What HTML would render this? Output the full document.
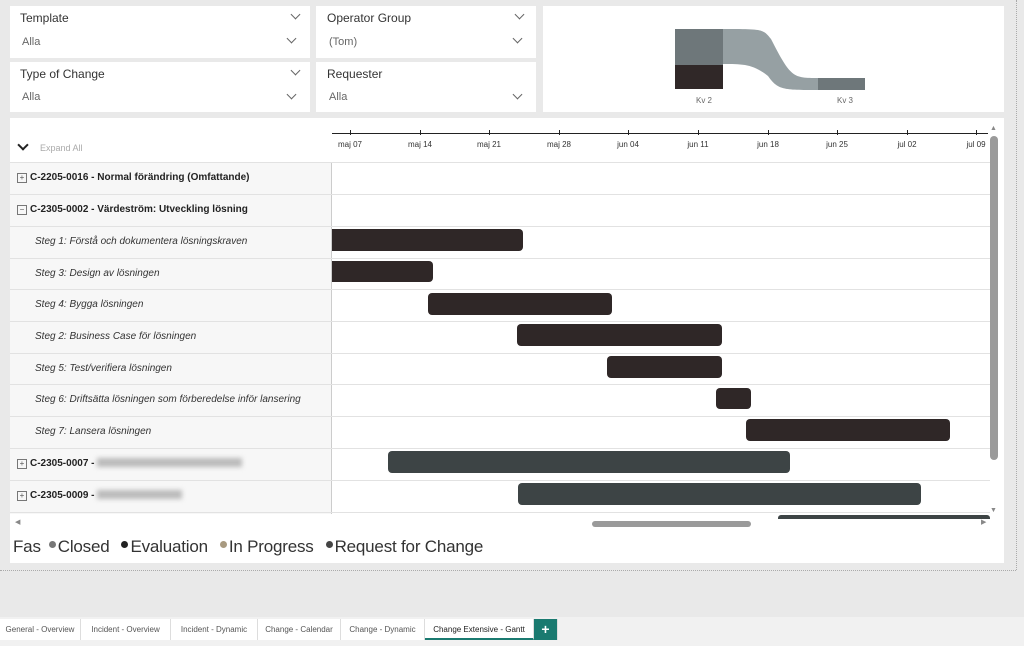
<!DOCTYPE html><html><head><style>
body{margin:0;width:1024px;height:646px;background:#e9e9e9;font-family:"Liberation Sans",sans-serif;position:relative;overflow:hidden}
.p{position:absolute;background:#fff}
.a{position:absolute}
.lbl{font-size:12px;color:#333}
.val{font-size:11px;color:#666}
.chev{position:absolute;width:6px;height:6px;border-right:1px solid #666;border-bottom:1px solid #666;transform:rotate(45deg)}
.row{position:absolute;left:10px;width:980px;height:1px;background:#e2e2e2}
.t{position:absolute;font-size:10px;font-style:italic;color:#333;left:35px}
.g{position:absolute;font-size:10px;font-weight:bold;color:#222;left:30px}
.b{position:absolute;background:#2f2727;border-radius:4px;height:22px}
.pl{position:absolute;left:17px;width:8px;height:8px;border:1px solid #777;font-size:8px;line-height:8px;text-align:center;color:#555}
.tk{position:absolute;top:140px;font-size:8px;color:#333;transform:translateX(-50%)}
.tm{position:absolute;top:130px;width:1px;height:5px;background:#222}
.tab{position:absolute;top:619px;height:21px;font-size:8px;color:#555;line-height:21px;text-align:center;background:#fff;border-right:1px solid #ddd}
.dot{display:inline-block;width:7px;height:7px;border-radius:50%;margin:0 2px 0 8px;vertical-align:4px}
.blur{display:inline-block;height:9px;background:#bbb;filter:blur(2.5px);vertical-align:-1px;margin-left:3px}
</style></head><body>
<div class="p" style="left:10px;top:6px;width:300px;height:52px"></div>
<div class="p" style="left:316px;top:6px;width:220px;height:52px"></div>
<div class="p" style="left:10px;top:62px;width:300px;height:50px"></div>
<div class="p" style="left:316px;top:62px;width:220px;height:50px"></div>
<div class="a lbl" style="left:20px;top:11px">Template</div>
<div class="a val" style="left:22px;top:36px">Alla</div>
<div class="a lbl" style="left:327px;top:11px">Operator Group</div>
<div class="a val" style="left:329px;top:36px">(Tom)</div>
<div class="a lbl" style="left:20px;top:67px">Type of Change</div>
<div class="a val" style="left:22px;top:91px">Alla</div>
<div class="a lbl" style="left:327px;top:67px">Requester</div>
<div class="a val" style="left:329px;top:91px">Alla</div>
<div class="chev" style="left:292px;top:11px"></div><div class="chev" style="left:288px;top:35px"></div>
<div class="chev" style="left:516px;top:11px"></div><div class="chev" style="left:514px;top:35px"></div>
<div class="chev" style="left:292px;top:67px"></div><div class="chev" style="left:288px;top:91px"></div>
<div class="chev" style="left:514px;top:91px"></div>
<div class="p" style="left:543px;top:6px;width:461px;height:106px">
<svg width="461" height="106" style="position:absolute;left:0;top:0">
<path d="M180 23 C220 23 220 23 228 33 C248 72 250 72 275 72 L275 84 C240 84 235 84 225 70 C210 58 200 58 180 58 Z" fill="#96a0a3"/>
<rect x="132" y="23" width="48" height="36" fill="#6e777a"/>
<rect x="132" y="59" width="48" height="24" fill="#302828"/>
<rect x="275" y="72" width="47" height="12" fill="#6e777a"/>
<text x="161" y="97" font-size="8" fill="#666" text-anchor="middle" font-family="Liberation Sans">Kv 2</text>
<text x="302" y="97" font-size="8" fill="#666" text-anchor="middle" font-family="Liberation Sans">Kv 3</text>
</svg></div>
<div class="p" style="left:10px;top:118px;width:994px;height:445px"></div>
<div class="a" style="left:19px;top:141px;width:6px;height:6px;border-right:2px solid #222;border-bottom:2px solid #222;transform:rotate(45deg)"></div>
<div class="a" style="left:40px;top:143px;font-size:9px;color:#aaa">Expand All</div>
<div class="a" style="left:332px;top:133px;width:656px;height:1px;background:#222"></div>
<div class="tm" style="left:350px"></div><div class="tk" style="left:350px">maj 07</div>
<div class="tm" style="left:420px"></div><div class="tk" style="left:420px">maj 14</div>
<div class="tm" style="left:489px"></div><div class="tk" style="left:489px">maj 21</div>
<div class="tm" style="left:559px"></div><div class="tk" style="left:559px">maj 28</div>
<div class="tm" style="left:628px"></div><div class="tk" style="left:628px">jun 04</div>
<div class="tm" style="left:698px"></div><div class="tk" style="left:698px">jun 11</div>
<div class="tm" style="left:768px"></div><div class="tk" style="left:768px">jun 18</div>
<div class="tm" style="left:837px"></div><div class="tk" style="left:837px">jun 25</div>
<div class="tm" style="left:907px"></div><div class="tk" style="left:907px">jul 02</div>
<div class="tm" style="left:976px"></div><div class="tk" style="left:976px">jul 09</div>
<div class="a" style="left:10px;top:162px;width:322px;height:352px;background:#f7f7f7"></div>
<div class="a" style="left:331px;top:162px;width:1px;height:352px;background:#ccc"></div>
<div class="row" style="top:162px"></div><div class="row" style="top:194px"></div><div class="row" style="top:226px"></div><div class="row" style="top:258px"></div><div class="row" style="top:289px"></div><div class="row" style="top:321px"></div><div class="row" style="top:353px"></div><div class="row" style="top:384px"></div><div class="row" style="top:416px"></div><div class="row" style="top:448px"></div><div class="row" style="top:480px"></div><div class="row" style="top:512px"></div>
<div class="pl" style="top:173px">+</div><div class="g" style="top:172px">C-2205-0016 - Normal förändring (Omfattande)</div>
<div class="pl" style="top:205px">−</div><div class="g" style="top:204px">C-2305-0002 - Värdeström: Utveckling lösning</div>
<div class="t" style="top:236px">Steg 1: Förstå och dokumentera lösningskraven</div>
<div class="t" style="top:268px">Steg 3: Design av lösningen</div>
<div class="t" style="top:299px">Steg 4: Bygga lösningen</div>
<div class="t" style="top:331px">Steg 2: Business Case för lösningen</div>
<div class="t" style="top:363px">Steg 5: Test/verifiera lösningen</div>
<div class="t" style="top:394px">Steg 6: Driftsätta lösningen som förberedelse inför lansering</div>
<div class="t" style="top:426px">Steg 7: Lansera lösningen</div>
<div class="pl" style="top:459px">+</div><div class="g" style="top:458px">C-2305-0007 -<span class="blur" style="width:145px"></span></div>
<div class="pl" style="top:491px">+</div><div class="g" style="top:490px">C-2305-0009 -<span class="blur" style="width:85px"></span></div>
<div class="b" style="left:332px;top:229px;width:191px;border-radius:0 4px 4px 0"></div>
<div class="b" style="left:332px;top:261px;width:101px;height:21px;border-radius:0 4px 4px 0"></div>
<div class="b" style="left:428px;top:293px;width:184px"></div>
<div class="b" style="left:517px;top:324px;width:205px"></div>
<div class="b" style="left:607px;top:356px;width:115px"></div>
<div class="b" style="left:716px;top:388px;width:35px;height:21px"></div>
<div class="b" style="left:746px;top:419px;width:204px"></div>
<div class="b" style="left:388px;top:451px;width:402px;background:#3d4445"></div>
<div class="b" style="left:518px;top:483px;width:403px;background:#3d4445"></div>
<div class="b" style="left:778px;top:515px;width:212px;height:4px;background:#3d4445;border-radius:3px 3px 0 0"></div>
<div class="a" style="left:990px;top:136px;width:8px;height:324px;background:#9a9a9a;border-radius:4px"></div>
<div class="a" style="left:990px;top:125px;font-size:7px;color:#888">▲</div>
<div class="a" style="left:990px;top:507px;font-size:7px;color:#888">▼</div>
<div class="a" style="left:592px;top:521px;width:159px;height:6px;background:#9a9a9a;border-radius:3px"></div>
<div class="a" style="left:15px;top:518px;font-size:7px;color:#888">◀</div>
<div class="a" style="left:981px;top:518px;font-size:7px;color:#888">▶</div>
<div class="a" style="left:13px;top:537px;font-size:17px;color:#333;white-space:nowrap;letter-spacing:-0.2px">Fas<span class="dot" style="background:#777"></span>Closed<span class="dot" style="background:#222;margin-left:12px"></span>Evaluation<span class="dot" style="background:#a89a80;margin-left:12px"></span>In Progress<span class="dot" style="background:#444;margin-left:12px"></span>Request for Change</div>
<div class="a" style="left:0;top:570px;width:1016px;border-top:1px dotted #aaa"></div>
<div class="a" style="left:1016px;top:0;height:570px;border-left:1px dotted #aaa"></div>
<div class="a" style="left:0;top:617px;width:1024px;height:29px;background:#f1f1f1"></div>
<div class="tab" style="left:0;width:80px">General - Overview</div>
<div class="tab" style="left:81px;width:89px">Incident - Overview</div>
<div class="tab" style="left:171px;width:86px">Incident - Dynamic</div>
<div class="tab" style="left:258px;width:82px">Change - Calendar</div>
<div class="tab" style="left:341px;width:83px">Change - Dynamic</div>
<div class="tab" style="left:425px;width:108px;color:#222;border-bottom:2px solid #1a7a70;height:19px">Change Extensive - Gantt</div>
<div class="tab" style="left:534px;width:23px;background:#1a7a70;color:#fff;font-size:14px;font-weight:bold">+</div>
</body></html>
